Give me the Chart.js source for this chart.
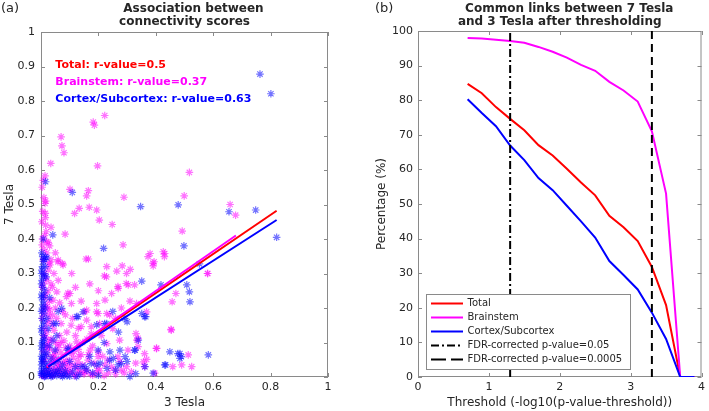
<!DOCTYPE html>
<html>
<head>
<meta charset="utf-8">
<script src="https://cdn.jsdelivr.net/npm/chart.js@4.4.1/dist/chart.umd.min.js"></script>
<style>
  html, body { margin: 0; padding: 0; background: #fff; }
  #wrap { position: relative; width: 709px; height: 411px; overflow: hidden; }
  .box { position: absolute; top: 0; height: 411px; }
  #boxA { left: 0; width: 345px; }
  #boxB { left: 355px; width: 354px; }
</style>
</head>
<body>
<div id="wrap">
  <div class="box" id="boxA"><canvas id="chartA"></canvas></div>
  <div class="box" id="boxB"><canvas id="chartB"></canvas></div>
</div>
<script>
// --- Panel (a): scatter 3 Tesla vs 7 Tesla ---
const brainstemPts = [
  [0.07,0.696],[0.182,0.739],[0.186,0.73],[0.222,0.758],[0.073,0.67],[0.08,0.65],[0.034,0.619],[0.197,0.612],
  [0.517,0.593],[0.014,0.583],[0.101,0.544],[0.165,0.54],[0.159,0.525],[0.289,0.521],[0.499,0.525],[0.016,0.51],
  [0.014,0.503],[0.659,0.5],[0.678,0.469],[0.133,0.489],[0.117,0.474],[0.168,0.492],[0.194,0.484],[0.203,0.455],
  [0.015,0.474],[0.015,0.462],[0.248,0.442],[0.016,0.44],[0.035,0.434],[0.018,0.421],[0.084,0.414],[0.492,0.423],
  [0.02,0.392],[0.004,0.383],[0.286,0.383],[0.38,0.358],[0.426,0.363],[0.43,0.349],[0.06,0.339],[0.075,0.329],
  [0.157,0.342],[0.165,0.342],[0.394,0.334],[0.391,0.322],[0.58,0.3],[0.229,0.32],[0.221,0.293],[0.264,0.307],
  [0.283,0.322],[0.311,0.312],[0.107,0.3],[0.031,0.325],
  [0.008,0.57],[0.004,0.55],[0.01,0.52],[0.006,0.48],[0.003,0.45],[0.012,0.41],[0.005,0.40],[0.01,0.37],
  [0.02,0.36],[0.008,0.34],[0.025,0.39],[0.03,0.38],
  [0.298,0.3],[0.581,0.3],[0.47,0.242],[0.457,0.218],[0.453,0.138],[0.368,0.189],[0.333,0.213],[0.304,0.267],
  [0.269,0.257],[0.246,0.242],[0.223,0.223],[0.194,0.213],[0.159,0.194],[0.194,0.189],[0.229,0.184],[0.159,0.165],
  [0.089,0.233],[0.055,0.247],[0.101,0.242],[0.13,0.141],[0.331,0.126],[0.334,0.107],[0.403,0.083],[0.513,0.064],
  [0.49,0.035],[0.525,0.03],[0.459,0.03],[0.357,0.044],[0.368,0.051],[0.258,0.02],[0.298,0.03],[0.171,0.078],
  [0.2,0.073],[0.229,0.097],[0.049,0.064],[0.031,0.165],[0.124,0.102],
  [0.059,0.334],[0.077,0.325],[0.228,0.29],[0.268,0.262],[0.297,0.271],[0.326,0.267],[0.373,0.349],[0.39,0.33],
  [0.431,0.358],[0.094,0.243],[0.106,0.213],[0.042,0.223],[0.024,0.199],[0.152,0.189],[0.199,0.184],[0.239,0.18],
  [0.14,0.146],[0.175,0.146],[0.204,0.155],[0.274,0.107],[0.338,0.112],[0.338,0.088],[0.454,0.136],[0.402,0.083],
  [0.361,0.068],[0.268,0.059],[0.303,0.078],[0.233,0.049],[0.199,0.059],[0.164,0.049],[0.129,0.044],[0.106,0.068],
  [0.083,0.039],[0.361,0.03],[0.396,0.011],[0.28,0.02],[0.222,0.035],[0.198,0.025],[0.152,0.015],
  [0.01,0.3],[0.02,0.28],[0.005,0.26],[0.015,0.24],[0.03,0.22],[0.01,0.2],[0.025,0.18],[0.005,0.17],
  [0.04,0.15],[0.02,0.13],[0.01,0.12],[0.035,0.11],[0.05,0.1],[0.015,0.09],[0.06,0.085],[0.03,0.08],
  [0.07,0.07],[0.02,0.065],[0.045,0.055],[0.09,0.05],[0.01,0.045],[0.06,0.04],[0.11,0.035],[0.03,0.03],
  [0.08,0.025],[0.13,0.02],[0.05,0.018],[0.1,0.012],[0.02,0.01],[0.15,0.008],[0.07,0.006],[0.18,0.005],
  [0.04,0.004],[0.12,0.003],[0.22,0.004],[0.01,0.002],[0.09,0.015],[0.06,0.025],[0.035,0.045],[0.025,0.095],
  [0.045,0.135],[0.065,0.12],[0.08,0.105],[0.055,0.17],[0.075,0.19],[0.04,0.26],[0.06,0.28],[0.025,0.31],[0.045,0.3],
  [0.005,0.005],[0.012,0.012],[0.018,0.02],[0.025,0.005],[0.032,0.012],[0.038,0.022],[0.045,0.008],[0.052,0.03],
  [0.058,0.012],[0.065,0.035],[0.072,0.018],[0.078,0.045],[0.085,0.008],[0.092,0.028],[0.098,0.04],[0.105,0.02],
  [0.112,0.055],[0.118,0.008],[0.125,0.03],[0.132,0.06],[0.138,0.012],[0.145,0.035],[0.158,0.02],[0.165,0.065],
  [0.172,0.01],[0.185,0.04],[0.192,0.012],[0.205,0.018],[0.215,0.06],[0.235,0.012],[0.245,0.03],[0.26,0.008],
  [0.275,0.045],[0.29,0.012],[0.315,0.015],[0.33,0.04],[0.012,0.05],[0.008,0.075],[0.022,0.085],[0.028,0.105],
  [0.015,0.115],[0.012,0.14],[0.022,0.155],[0.008,0.185],[0.03,0.195],[0.018,0.21],[0.012,0.23],[0.025,0.25],
  [0.008,0.27],[0.035,0.27],[0.015,0.29],[0.028,0.33],[0.04,0.06],[0.05,0.075],[0.06,0.095],[0.07,0.1],
  [0.085,0.085],[0.1,0.09],[0.115,0.075],[0.13,0.08],[0.145,0.1],[0.16,0.11],[0.175,0.125],[0.09,0.13],
  [0.105,0.15],[0.12,0.12],[0.05,0.2],[0.065,0.215],[0.085,0.18],[0.11,0.17],[0.07,0.155],[0.04,0.18],
  [0.14,0.065],[0.18,0.09],[0.21,0.12],[0.25,0.14],[0.28,0.2],[0.31,0.22],[0.26,0.17],[0.2,0.25],
  [0.17,0.27],[0.14,0.22],[0.12,0.26],[0.035,0.34],[0.05,0.36]
];
const cortexPts = [
  [0.763,0.878],[0.801,0.821],[0.016,0.566],[0.109,0.535],[0.347,0.494],[0.478,0.499],[0.655,0.479],[0.748,0.484],
  [0.041,0.412],[0.498,0.38],[0.821,0.405],[0.218,0.373],[0.006,0.349],[0.016,0.349],[0.552,0.328],[0.351,0.278],
  [0.418,0.267],[0.508,0.267],[0.517,0.247],[0.519,0.218],[0.365,0.175],[0.351,0.184],[0.147,0.189],[0.124,0.175],
  [0.194,0.151],[0.229,0.155],[0.072,0.199],[0.328,0.078],[0.339,0.107],[0.449,0.073],[0.484,0.068],[0.484,0.054],
  [0.583,0.064],[0.434,0.035],[0.391,0.011],[0.31,0.001],[0.362,0.03],[0.269,0.035],[0.293,0.059],[0.252,0.054],
  [0.206,0.04],[0.194,0.035],[0.24,0.073],[0.275,0.078],[0.153,0.03],[0.124,0.001],[0.095,0.083],[0.049,0.078],
  [0.043,0.155],
  [0.005,0.32],[0.012,0.3],[0.018,0.29],[0.008,0.335],[0.02,0.345],
  [0.004,0.28],[0.006,0.26],[0.003,0.24],[0.008,0.22],[0.005,0.2],[0.01,0.185],[0.004,0.17],[0.007,0.15],
  [0.003,0.13],[0.009,0.12],[0.005,0.1],[0.012,0.09],[0.004,0.08],[0.008,0.07],[0.015,0.06],[0.005,0.05],
  [0.01,0.04],[0.02,0.03],[0.004,0.025],[0.03,0.02],[0.01,0.015],[0.05,0.01],[0.02,0.008],[0.07,0.005],
  [0.04,0.003],[0.1,0.002],[0.015,0.002],[0.06,0.015],[0.08,0.01],[0.03,0.006],[0.002,0.005],[0.002,0.01],
  [0.002,0.035],[0.002,0.06],[0.012,0.11],[0.015,0.2],[0.013,0.25],[0.003,0.31],[0.01,0.34],
  [0.129,0.175],[0.292,0.17],[0.361,0.175],[0.053,0.155],[0.222,0.155],[0.042,0.107],[0.199,0.078],[0.239,0.049],
  [0.175,0.039],[0.326,0.078],[0.431,0.035],[0.477,0.068],[0.489,0.059],[0.094,0.078],[0.14,0.03],[0.28,0.039],
  [0.001,0.015],[0.003,0.045],[0.006,0.055],[0.002,0.09],[0.006,0.105],[0.002,0.14],[0.01,0.16],[0.002,0.19],
  [0.007,0.21],[0.002,0.23],[0.01,0.235],[0.002,0.27],[0.008,0.29],[0.002,0.3],[0.015,0.32],[0.003,0.36],
  [0.008,0.4],[0.012,0.001],[0.025,0.012],[0.035,0.001],[0.045,0.018],[0.055,0.004],[0.065,0.022],[0.075,0.001],
  [0.085,0.018],[0.09,0.004],[0.11,0.015],[0.12,0.03],[0.135,0.008],[0.16,0.02],[0.18,0.012],[0.2,0.005],
  [0.015,0.025],[0.025,0.04],[0.035,0.055],[0.02,0.07],[0.03,0.09],[0.045,0.04],[0.06,0.05],[0.075,0.035],
  [0.1,0.045],[0.055,0.12],[0.025,0.14],[0.02,0.17],[0.03,0.23],[0.06,0.19],[0.26,0.02],[0.23,0.025],
  [0.3,0.045],[0.33,0.01],[0.17,0.06],[0.22,0.1],[0.27,0.13],[0.3,0.16],[0.25,0.19]
];
// regression lines (start / end)
const totalFitX = [0.02, 0.821];
const totalFitY = [0.028, 0.482];
const brainFitX = [0.02, 0.679];
const brainFitY = [0.03, 0.41];
const cortexFitX = [0.025, 0.821];
const cortexFitY = [0.03, 0.455];
const rTexts = ['Total: r-value=0.5', 'Brainstem: r-value=0.37', 'Cortex/Subcortex: r-value=0.63'];
const rTextY = [0.905, 0.855, 0.805];

// --- Panel (b): percentage of common links ---
const thresholds = [0.7, 0.9, 1.1, 1.3, 1.5, 1.7, 1.9, 2.1, 2.3, 2.5, 2.7, 2.9, 3.1, 3.3, 3.5, 3.7, 3.9];
const totalPct  = [84.7, 82, 78, 74.6, 71.3, 67, 64, 60.2, 56.2, 52.5, 46.6, 43.3, 39.3, 31.8, 20.8, 0, 0];
const brainPct  = [98, 97.8, 97.5, 97.1, 96.6, 95.4, 94, 92.3, 90.2, 88.5, 85.3, 82.8, 79.6, 71, 53, 0, 0];
const cortexPct = [80.3, 76.3, 72.5, 66.9, 62.7, 57.5, 54, 49.5, 45, 40.3, 33.5, 29.5, 25.3, 18.6, 11, 0, 0];
const fdrThresholds = [1.3, 3.3];
const legendLabels = ['Total', 'Brainstem', 'Cortex/Subcortex', 'FDR-corrected p-value=0.05', 'FDR-corrected p-value=0.0005'];

const RED = '#ff0000', MAG = '#ff00ff', BLUE = '#0000ff';
const AXIS = '#8a8a8a', TXT = '#262626';
const FONT = "'DejaVu Sans', sans-serif";

Chart.defaults.font.family = FONT;
Chart.defaults.color = TXT;

const zip = (xs, ys) => xs.map((x, i) => ({ x, y: ys[i] }));
const pts = arr => arr.map(p => ({ x: p[0], y: p[1] }));
const fmt = v => String(Number(v.toFixed(2)));

// caja del eje con marcas hacia dentro (estilo MATLAB)
const boxTicks = {
  id: 'boxTicks',
  beforeDatasetsDraw(chart) {
    const { ctx, chartArea: a, scales: { x, y } } = chart;
    ctx.save();
    ctx.strokeStyle = AXIS;
    ctx.lineWidth = 1;
    ctx.strokeRect(a.left + 0.5, a.top + 0.5, a.right - a.left - 1, a.bottom - a.top - 1);
    ctx.beginPath();
    x.ticks.forEach(t => {
      const px = Math.round(x.getPixelForValue(t.value)) + 0.5;
      ctx.moveTo(px, a.bottom); ctx.lineTo(px, a.bottom - 4);
      ctx.moveTo(px, a.top); ctx.lineTo(px, a.top + 4);
    });
    y.ticks.forEach(t => {
      const py = Math.round(y.getPixelForValue(t.value)) + 0.5;
      ctx.moveTo(a.left, py); ctx.lineTo(a.left + 4, py);
      ctx.moveTo(a.right, py); ctx.lineTo(a.right - 4, py);
    });
    ctx.stroke();
    ctx.restore();
  }
};

function titlePlugin(id, panel, panelX, lines) {
  return {
    id,
    afterDraw(chart) {
      const { ctx, chartArea: a } = chart;
      const cx = (a.left + a.right) / 2;
      ctx.save();
      ctx.fillStyle = TXT;
      ctx.textBaseline = 'alphabetic';
      ctx.font = `13px ${FONT}`;
      ctx.textAlign = 'left';
      ctx.fillText(panel, panelX, 12);
      ctx.font = `bold 12px ${FONT}`;
      ctx.textAlign = 'center';
      lines.forEach(l => ctx.fillText(l.text, cx + l.dx, l.y));
      ctx.restore();
    }
  };
}

const rLabels = {
  id: 'rLabels',
  afterDraw(chart) {
    const { ctx, scales: { x, y } } = chart;
    const cols = [RED, MAG, BLUE];
    ctx.save();
    ctx.font = `bold 11px ${FONT}`;
    ctx.textAlign = 'left';
    ctx.textBaseline = 'middle';
    rTexts.forEach((t, i) => {
      ctx.fillStyle = cols[i];
      ctx.fillText(t, x.getPixelForValue(0.05), y.getPixelForValue(rTextY[i]));
    });
    ctx.restore();
  }
};

const axisFit = (w, h) => ({
  x: s => { s.height = h; },
  y: s => { s.width = w; }
});

// --- Grafico A ---
const fitA = axisFit(41, 34);
new Chart(document.getElementById('chartA'), {
  data: {
    datasets: [
      { type: 'line', data: zip(cortexFitX, cortexFitY), borderColor: BLUE, borderWidth: 2, pointRadius: 0 },
      { type: 'line', data: zip(brainFitX, brainFitY), borderColor: MAG, borderWidth: 2, pointRadius: 0 },
      { type: 'line', data: zip(totalFitX, totalFitY), borderColor: RED, borderWidth: 2, pointRadius: 0 },
      { type: 'scatter', data: pts(cortexPts), pointStyle: 'star', radius: 3.8, borderWidth: 1.2,
        borderColor: 'rgba(0,0,255,0.55)', backgroundColor: 'rgba(0,0,255,0.55)', clip: false },
      { type: 'scatter', data: pts(brainstemPts), pointStyle: 'star', radius: 3.8, borderWidth: 1.2,
        borderColor: 'rgba(255,0,255,0.55)', backgroundColor: 'rgba(255,0,255,0.55)', clip: false }
    ]
  },
  options: {
    responsive: true,
    maintainAspectRatio: false,
    animation: false,
    events: [],
    layout: { padding: { top: 32, right: 17, left: 0, bottom: 0 } },
    plugins: { legend: { display: false }, tooltip: { enabled: false } },
    scales: {
      x: {
        type: 'linear', min: 0, max: 1,
        afterFit: fitA.x,
        grid: { display: false, drawTicks: false },
        border: { display: false },
        ticks: { stepSize: 0.2, padding: 4, font: { size: 11 }, color: TXT, callback: fmt },
        title: { display: true, text: '3 Tesla', font: { size: 12 }, color: TXT, padding: { top: 0, bottom: 1 } }
      },
      y: {
        type: 'linear', min: 0, max: 1,
        afterFit: fitA.y,
        grid: { display: false, drawTicks: false },
        border: { display: false },
        ticks: { stepSize: 0.1, padding: 6, font: { size: 11 }, color: TXT, callback: fmt },
        title: { display: true, text: '7 Tesla', font: { size: 12 }, color: TXT, padding: { top: 3, bottom: 0 } }
      }
    }
  },
  plugins: [boxTicks, rLabels, titlePlugin('titleA', '(a)', 1, [
    { text: 'Association between', dx: 9, y: 12 },
    { text: 'connectivity scores', dx: 0, y: 24.5 }
  ])]
});

// --- Grafico B ---
const legendBox = {
  id: 'legendBox',
  afterDraw(chart) {
    const { ctx, chartArea: a } = chart;
    const left = a.left + 8, bottom = a.bottom - 8, w = 204, h = 75, top = bottom - h;
    const styles = [
      { c: RED, d: [] }, { c: MAG, d: [] }, { c: BLUE, d: [] },
      { c: '#000', d: [8, 3, 2, 3] }, { c: '#000', d: [15, 5] }
    ];
    ctx.save();
    ctx.fillStyle = '#fff';
    ctx.fillRect(left, top, w, h);
    ctx.strokeStyle = AXIS;
    ctx.lineWidth = 1;
    ctx.strokeRect(left + 0.5, top + 0.5, w, h);
    ctx.font = `10px ${FONT}`;
    ctx.textAlign = 'left';
    ctx.textBaseline = 'middle';
    legendLabels.forEach((lab, i) => {
      const yy = top + 9.5 + i * 14;
      ctx.strokeStyle = styles[i].c;
      ctx.lineWidth = 2;
      ctx.setLineDash(styles[i].d);
      ctx.beginPath();
      ctx.moveTo(left + 5, yy);
      ctx.lineTo(left + 37, yy);
      ctx.stroke();
      ctx.setLineDash([]);
      ctx.fillStyle = TXT;
      ctx.fillText(lab, left + 41.5, yy);
    });
    ctx.restore();
  }
};

const fitB = axisFit(63, 34);
const vline = (xv, dash) => ({
  type: 'line', data: [{ x: xv, y: 0 }, { x: xv, y: 100 }],
  borderColor: '#000', borderWidth: 2, borderDash: dash, pointRadius: 0
});
new Chart(document.getElementById('chartB'), {
  data: {
    datasets: [
      vline(fdrThresholds[1], [8, 5]),
      vline(fdrThresholds[0], [8, 3, 2, 3]),
      { type: 'line', data: zip(thresholds, cortexPct), borderColor: BLUE, borderWidth: 2, pointRadius: 0 },
      { type: 'line', data: zip(thresholds, brainPct), borderColor: MAG, borderWidth: 2, pointRadius: 0 },
      { type: 'line', data: zip(thresholds, totalPct), borderColor: RED, borderWidth: 2, pointRadius: 0 }
    ]
  },
  options: {
    responsive: true,
    maintainAspectRatio: false,
    animation: false,
    events: [],
    layout: { padding: { top: 31, right: 6, left: 0, bottom: 0 } },
    plugins: { legend: { display: false }, tooltip: { enabled: false } },
    scales: {
      x: {
        type: 'linear', min: 0, max: 4,
        afterFit: fitB.x,
        grid: { display: false, drawTicks: false },
        border: { display: false },
        ticks: { stepSize: 1, padding: 4, font: { size: 11 }, color: TXT, callback: fmt },
        title: { display: true, text: 'Threshold (-log10(p-value-threshold))', font: { size: 12 }, color: TXT,
                 padding: { top: 0, bottom: 1 } }
      },
      y: {
        type: 'linear', min: 0, max: 100,
        afterFit: fitB.y,
        grid: { display: false, drawTicks: false },
        border: { display: false },
        ticks: { stepSize: 10, padding: 5, font: { size: 11 }, color: TXT, callback: fmt },
        title: { display: true, text: 'Percentage (%)', font: { size: 12 }, color: TXT, padding: { top: 19.5, bottom: 0 } }
      }
    }
  },
  plugins: [boxTicks, legendBox, titlePlugin('titleB', '(b)', 20, [
    { text: 'Common links between 7 Tesla', dx: 9.5, y: 12 },
    { text: 'and 3 Tesla after thresholding', dx: 0, y: 25 }
  ])]
});
</script>
</body>
</html>
